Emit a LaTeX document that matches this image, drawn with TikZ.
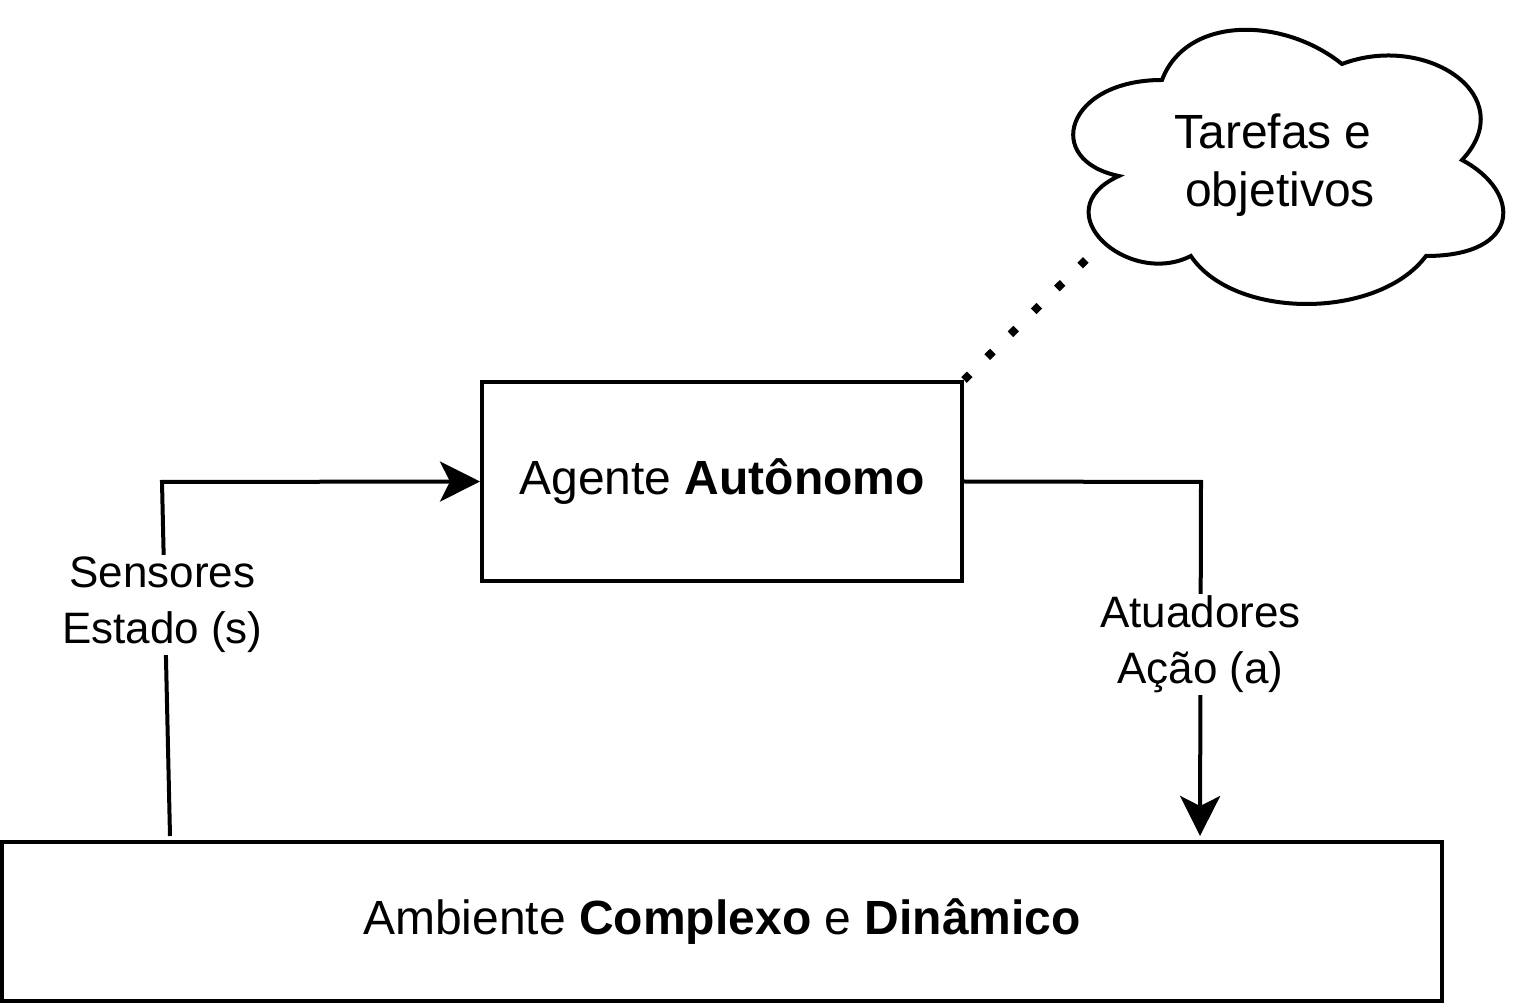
\documentclass[tikz,border=0pt]{standalone}
\usepackage{fontspec}
\setmainfont{Liberation Sans}
\usetikzlibrary{arrows.meta, positioning}

\begin{document}
\begin{tikzpicture}[x=0.5pt, y=-0.5pt]

\tikzstyle{block}=[rectangle,draw,line width=2pt,inner sep=0pt,font=\fontsize{24}{29}\selectfont]
\tikzstyle{tag}=[fill=white,inner sep=1pt,align=center,font=\fontsize{22}{28}\selectfont]
\tikzstyle{line}=[draw,line width=2pt,-{Stealth[length=20pt,width=20pt,inset=5pt]}]

\useasboundingbox (0,0) rectangle (1524,1004);

\node (agente) [block,minimum width=240pt,minimum height=99.5pt] at (722,481.5) {Agente \textbf{Autônomo}};
\node (ambiente) [block,minimum width=720pt,minimum height=79.5pt] at (722,921.5) {Ambiente \textbf{Complexo} e \textbf{Dinâmico}};

% cloud
\draw[line width=2pt] (1162,80) .. controls (1066,80) and (1042,160) .. (1118.8,176)
  .. controls (1042,211.2) and (1128.4,288) .. (1190.8,256)
  .. controls (1234,320) and (1378,320) .. (1426,256)
  .. controls (1522,256) and (1522,192) .. (1462,160)
  .. controls (1522,96) and (1426,32) .. (1342,64)
  .. controls (1282,16) and (1186,16) .. (1162,80) -- cycle;
\node (tarefas) [align=center,font=\fontsize{24}{29}\selectfont] at (1280,165) {Tarefas e\kern7pt\\ objetivos};
\coordinate (nuvem) at (1103,243);

\coordinate (sensor) at (170,836);
\coordinate (canto1) at (162,482);
\coordinate (canto2) at (1201,482);
\coordinate (atuador) at (1200,836);

% Connections
\draw[line] (sensor) -- node[tag,pos=0.653,xshift=-1.25pt] {Sensores\\Estado (s)} (canto1) -- (agente.west);
\draw[line] (agente.east) -- (canto2) -- node[tag,pos=0.458] {Atuadores\\Ação (a)} (atuador);
\draw[line width=4pt,dash pattern=on 4pt off 12.3pt] (agente.north east) -- (nuvem);

\end{tikzpicture}
\end{document}
